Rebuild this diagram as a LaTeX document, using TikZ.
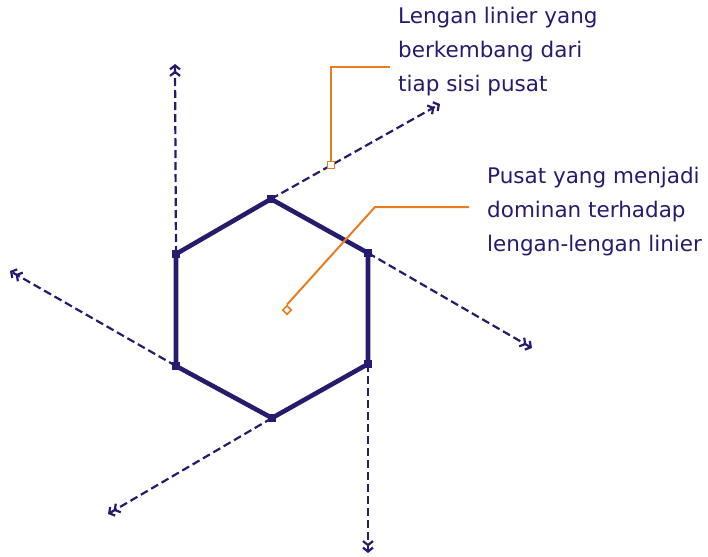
\documentclass[tikz,border=0pt]{standalone}
\usepackage{fontspec}
\setmainfont{DejaVu Sans}
\definecolor{ArmIndigo}{RGB}{38,28,110}
\definecolor{NoteOrange}{RGB}{232,124,30}
\usetikzlibrary{arrows.meta}

\begin{document}
\begin{tikzpicture}[x=1pt,y=-1pt,
    core/.style={draw=ArmIndigo,line width=4.6pt,line join=round},
    arm/.style={draw=ArmIndigo,line width=2.2pt,dash pattern=on 8pt off 4pt,
        -{Straight Barb[length=4pt,width=10pt,line width=2.2pt]Straight Barb[length=4pt,width=10pt,line width=2.2pt]}},
    joint/.style={fill=ArmIndigo,minimum size=8pt,inner sep=0pt},
    tag/.style={draw=NoteOrange,fill=white,line width=1.6pt,minimum size=7pt,inner sep=0pt},
    lead/.style={draw=NoteOrange,line width=2pt},
    note/.style={text=ArmIndigo,align=left,anchor=north west,inner sep=0pt,
        font=\fontsize{21.5}{34}\selectfont}]
  \useasboundingbox (0,0) rectangle (708,556);
  % hexagon corners
  \node[joint] (top) at (271,199) {};
  \node[joint] (ur)  at (368,253) {};
  \node[joint] (lr)  at (368,364) {};
  \node[joint] (bot) at (272,418) {};
  \node[joint] (ll)  at (176,366) {};
  \node[joint] (ul)  at (176,254) {};
  \draw[core] (top.center) -- (ur.center) -- (lr.center) -- (bot.center)
      -- (ll.center) -- (ul.center) -- cycle;
  % arm ends
  \coordinate (ulend)  at (175,64);
  \coordinate (topend) at (440,104);
  \coordinate (urend)  at (532,348);
  \coordinate (lrend)  at (368,553);
  \coordinate (botend) at (108,514);
  \coordinate (llend)  at (10,271);
  \draw[arm] (ul.center) -- (ulend);
  \draw[arm] (top.center) -- (topend);
  \draw[arm] (ur.center) -- (urend);
  \draw[arm] (lr.center) -- (lrend);
  \draw[arm] (bot.center) -- (botend);
  \draw[arm] (ll.center) -- (llend);
  % notes
  \node[note] (armnote) at (398,7) {Lengan linier yang\\berkembang dari\\tiap sisi pusat};
  \node[note] (corenote) at (487,167) {Pusat yang menjadi\\dominan terhadap\\lengan-lengan linier};
  \coordinate (armbend) at (331,67);
  \coordinate (armtip)  at (390,67);
  \coordinate (corebend) at (375,207);
  \coordinate (coretip)  at (469,207);
  \node[tag] (armtag) at (331,165) {};
  \node[tag,rotate=45,minimum size=6pt] (coretag) at (287,310) {};
  \draw[lead] (armtag.north) -- (armbend) -- (armtip);
  \draw[lead] (coretag.north east) -- (corebend) -- (coretip);
\end{tikzpicture}
\end{document}
